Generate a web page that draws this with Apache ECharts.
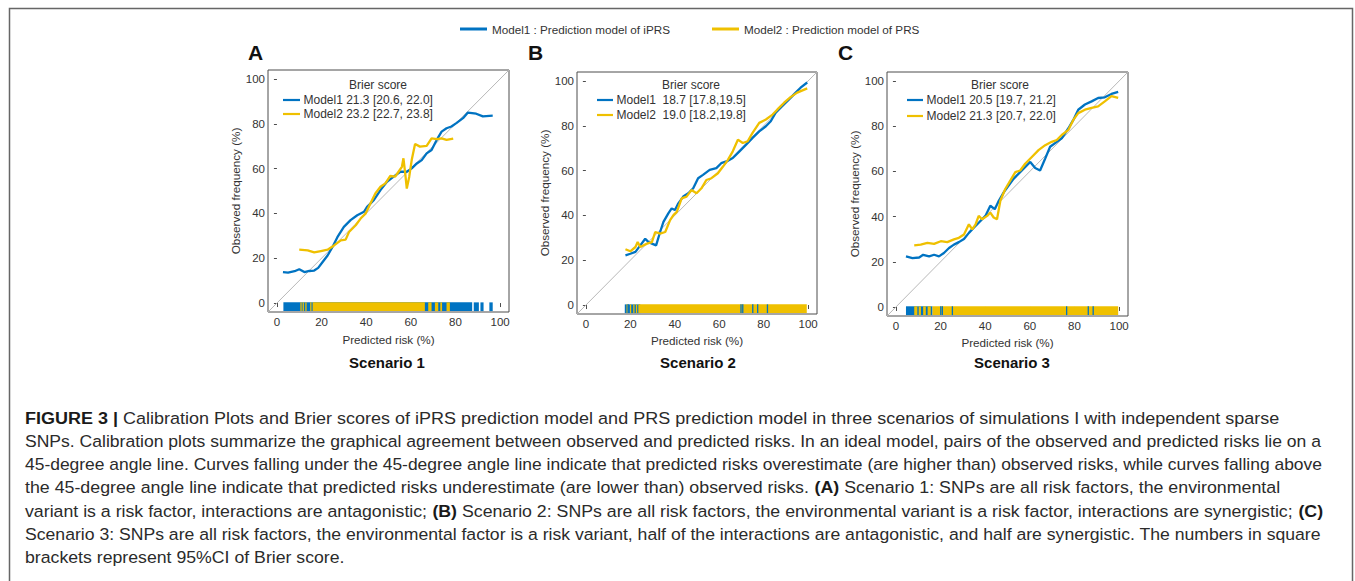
<!DOCTYPE html>
<html><head><meta charset="utf-8">
<script src="https://cdn.jsdelivr.net/npm/echarts@6/dist/echarts.min.js"></script>
<style>html,body{margin:0;padding:0;background:#fff}#c{width:1355px;height:581px}</style>
</head><body><div id="c"></div>
<script>
// ---------------- data ----------------
const tickValues = [0, 20, 40, 60, 80, 100];
const axisRange = [-4, 104];
const diagonal = [[-4, -4], [104, 104]];
const panelLetters = ['A', 'B', 'C'];
const scenarioTitles = ['Scenario 1', 'Scenario 2', 'Scenario 3'];
const modelNames = ['Model1 : Prediction model of iPRS', 'Model2 : Prediction model of PRS'];
const brierTitle = 'Brier score';
const brierA = ['Model1 21.3 [20.6, 22.0]', 'Model2 23.2 [22.7, 23.8]'];
const brierB = ['Model1  18.7 [17.8,19.5]', 'Model2  19.0 [18.2,19.8]'];
const brierC = ['Model1 20.5 [19.7, 21.2]', 'Model2 21.3 [20.7, 22.0]'];
const xTitle = 'Predicted risk (%)';
const yTitle = 'Observed frequency (%)';

// Scenario 1 calibration curves [predicted, observed]
const A_model1 = [[2.7,13.8],[5,13.6],[7.9,14.2],[10,15.1],[12.3,13.8],[14.5,14.3],[16.7,14.5],[18.5,15.7],[20.4,18.2],[22.7,21.2],[24.9,25],[27.1,29.4],[30,34],[33,37],[36,39.2],[39,40.7],[40.4,42.9],[43.4,45.9],[46.4,50.4],[49.3,54.1],[52.3,56.4],[55.3,58.6],[58.2,58.6],[60.4,60.1],[62.7,62.3],[64.9,63.8],[67.1,66.8],[69.3,68.3],[71.6,72.8],[73.8,76.5],[76,78],[78.2,78.8],[80.4,80.3],[83.4,82.5],[85.6,85],[89.3,84.5],[92.3,83.3],[96.7,83.6]];
const A_model2 = [[10,23.8],[13.8,23.5],[16.7,22.6],[19.7,23.2],[22.7,23.8],[25.6,25.7],[28.6,28],[30.8,28.3],[32.3,31.7],[35.3,34.7],[37.5,37.7],[39.7,39.9],[41.9,44.4],[44.1,48.9],[46.4,51.9],[48.6,53.4],[50.8,56.7],[53,56.4],[54.5,58.6],[56,60.8],[56.7,64.6],[57.5,57.8],[58.2,51.1],[59.3,56.4],[60.4,63.8],[61.9,71],[64.1,69.8],[67.1,70.1],[69.3,73.5],[71.6,73.1],[73.8,73.5],[76,72.8],[79,73.4]];
// Scenario 2
const B_model1 = [[17.8,22.2],[20,22.9],[22.3,23.7],[24.5,26.6],[26.7,29.6],[28.2,28.1],[29.7,27.4],[31.6,26.6],[33.4,32.6],[34.9,37.1],[37.1,40.9],[38.6,43.1],[40.1,42.4],[41.6,45.4],[43.8,48.4],[46.1,49.9],[48.3,52.1],[50.5,56.6],[52.7,58.1],[55.7,60.3],[58.7,61.1],[60.9,63.3],[63.9,64.4],[66.1,65.6],[69.1,68.6],[72.1,71.6],[75,74.6],[78,77.5],[81,79.8],[83.2,82],[85.4,85.8],[88.4,88.8],[91.4,91.8],[94.4,94.8],[96.6,97],[99.6,99.3]];
const B_model2 = [[17.8,24.9],[20,24],[22.3,25.9],[23.3,28.1],[24.5,25.9],[27.5,27.4],[29.7,28.1],[31.2,32.6],[33.4,31.9],[35.7,32.6],[37.9,37.9],[39.4,40.1],[40.9,41.6],[43.1,47.6],[45.3,48.4],[47.5,51.3],[49.8,49.9],[52,52.1],[54.2,55.8],[56.5,56.6],[59.4,58.8],[61.7,61.8],[63.9,64.8],[66.1,68.6],[68.4,73.8],[70.6,72.3],[72.8,73.1],[75,76.8],[78,81.3],[81,82.8],[84,85],[86.2,87.3],[89.2,90.3],[92.1,92.8],[95.1,94.8],[99.6,96.7]];
// Scenario 3
const C_model1 = [[4.5,22.4],[7.4,21.6],[10.4,21.9],[12.2,23.1],[14.9,22.4],[17.1,23.1],[19.3,22.4],[21.5,23.9],[23.8,26.1],[26,27.6],[28.2,28.7],[30.5,30.1],[32.7,32.8],[34.9,35.1],[37.1,37.3],[40.1,40.3],[42.3,44.8],[44.3,43.3],[46.1,47],[48.3,50.7],[50.5,53.7],[52.7,56.7],[55,59],[57.2,61.2],[60.2,64.2],[62.4,61.5],[64.6,60.4],[66.9,65.7],[69.1,70.9],[72.1,73.1],[74.3,74.6],[77.3,79.1],[79.5,82.8],[81.7,87.3],[84.7,89.6],[87.7,91],[90.6,92.5],[93.6,92.8],[96.6,94.3],[99.6,95.2]];
const C_model2 = [[8.2,27.3],[11.1,27.6],[14.1,28.4],[17.1,27.9],[20.1,29.1],[23,28.7],[26,29.9],[28.2,30.6],[30.5,32.1],[32.7,36.6],[34.2,34.3],[35.7,36.6],[37.1,40.3],[38.6,38.8],[40.9,40.3],[42.3,41.8],[43.8,39.6],[45.3,38.8],[46.8,47],[49,52.2],[51.3,56],[53.5,59.7],[55.7,60.4],[57.9,63.4],[60.9,66.4],[63.9,69.4],[66.9,71.6],[69.8,73.1],[72.1,73.9],[74.3,76.1],[77.3,78.4],[79.5,82.8],[81.7,85.8],[84.7,87.3],[87.7,88.1],[90.6,88.8],[93.6,91],[96.6,93.3],[99.6,92.5]];

// Rug of predicted risks: [from, to] in predicted-risk units (single ticks have from == to)
const A_rug_model1 = [[2.9,87.5],[88.2,90.5],[91.2,92.6],[95.2,96.7]];
const A_rug_model2 = [[10.8,10.8],[11.8,11.8],[13.0,13.0],[15.2,15.2],[16,66.3],[67.8,69.3],[70.8,72.3],[73.2,74.0],[76.0,77.5]];
const A_rug_model1_top = [];
const B_rug_model1 = [[17.5,24.5]];
const B_rug_model2 = [[18.6,18.6],[20.1,20.1],[21.6,21.6],[22.8,23.0],[23.6,99.4]];
const B_rug_model1_top = [[19.0,19.0],[69.8,70.1],[70.6,70.6],[75.1,75.1],[77.3,77.6],[81.7,81.7]];
const C_rug_model1 = [[4.5,16.4]];
const C_rug_model2 = [[8.2,9.6],[10.2,11.2],[12.2,13.4],[14.2,15.6],[16.4,99.6]];
const C_rug_model1_top = [[20.1,20.1],[20.8,20.8],[25.3,25.3],[76.5,76.5],[86.2,86.2],[88.4,88.4]];

const captionLines = [
  [['b','FIGURE 3 |'],['r',' Calibration Plots and Brier scores of iPRS prediction model and PRS prediction model in three scenarios of simulations I with independent sparse']],
  [['r','SNPs. Calibration plots summarize the graphical agreement between observed and predicted risks. In an ideal model, pairs of the observed and predicted risks lie on a']],
  [['r','45-degree angle line. Curves falling under the 45-degree angle line indicate that predicted risks overestimate (are higher than) observed risks, while curves falling above']],
  [['r','the 45-degree angle line indicate that predicted risks underestimate (are lower than) observed risks. '],['b','(A)'],['r',' Scenario 1: SNPs are all risk factors, the environmental']],
  [['r','variant is a risk factor, interactions are antagonistic; '],['b','(B)'],['r',' Scenario 2: SNPs are all risk factors, the environmental variant is a risk factor, interactions are synergistic; '],['b','(C)']],
  [['r','Scenario 3: SNPs are all risk factors, the environmental factor is a risk variant, half of the interactions are antagonistic, and half are synergistic. The numbers in square']],
  [['r','brackets represent 95%CI of Brier score.']]
];

// ---------------- layout / style ----------------
const FONT = '"Liberation Sans", Arial, Helvetica, sans-serif';
const BLUE = '#0073C2', YELLOW = '#EFC000';
const RUG_Y = [0.3, -3.6];
const grids = [
  {left: 268, top: 70, width: 241, height: 242},
  {left: 577, top: 72, width: 240, height: 242},
  {left: 887, top: 72, width: 241, height: 244}
];
const xNameGap = [21, 20, 20];
const curves = [[A_model1, A_model2], [B_model1, B_model2], [C_model1, C_model2]];
const rugs = [[A_rug_model1, A_rug_model2, A_rug_model1_top], [B_rug_model1, B_rug_model2, B_rug_model1_top], [C_rug_model1, C_rug_model2, C_rug_model1_top]];
const brier = [brierA, brierB, brierC];
const letterX = [248, 528, 838];
const scenarioX = [387, 698, 1012];
const brierTitleX = [378, 691, 1000];
const brierLineX = [[283, 300], [597, 613], [907, 923]];
const brierRowY = [[100, 114], [100, 115], [100, 116]];
// caption right edges (null = natural width with the mean condensing factor)
const captionRight = [1280, 1322.7, 1322.7, 1280, 1322.7, 1322.7, null];

const chart = echarts.init(document.getElementById('c'), null, {renderer: 'svg'});

function rugSeries(name, idx, items, color, z) {
  return {
    type: 'custom', name: name, xAxisIndex: idx, yAxisIndex: idx, z: z, silent: true,
    data: items,
    renderItem: function (params, api) {
      const p0 = api.coord([api.value(0), RUG_Y[0]]);
      const p1 = api.coord([api.value(1), RUG_Y[1]]);
      let w = p1[0] - p0[0];
      let x = p0[0];
      if (w < 1.3) { x = x - 0.65; w = 1.3; }
      return {type: 'rect', shape: {x: x, y: p0[1], width: w, height: p1[1] - p0[1]}, style: {fill: color}};
    }
  };
}

const AX_FONT = 11.7;
const xAxes = [], yAxes = [], series = [], graphics = [];
grids.forEach(function (g, i) {
  g.show = true; g.borderColor = '#4d4d4d'; g.borderWidth = 1; g.backgroundColor = 'transparent';
  xAxes.push({
    type: 'value', gridIndex: i, min: axisRange[0], max: axisRange[1],
    axisLine: {show: false}, splitLine: {show: false},
    axisTick: {show: true, length: 4, customValues: tickValues, lineStyle: {color: '#4d4d4d'}},
    axisLabel: {customValues: tickValues, margin: 4, fontSize: 11.5, color: '#333', fontFamily: FONT},
    name: xTitle, nameLocation: 'middle', nameGap: xNameGap[i],
    nameTextStyle: {fontSize: AX_FONT, color: '#333', fontFamily: FONT}
  });
  yAxes.push({
    type: 'value', gridIndex: i, min: axisRange[0], max: axisRange[1],
    axisLine: {show: false}, splitLine: {show: false},
    axisTick: {show: true, length: 3, customValues: tickValues, lineStyle: {color: '#4d4d4d'}},
    axisLabel: {customValues: tickValues, margin: 3, fontSize: 11.5, color: '#333', fontFamily: FONT},
    name: yTitle, nameLocation: 'middle', nameGap: 17.5,
    nameTextStyle: {fontSize: AX_FONT, color: '#333', fontFamily: FONT}
  });
});
// line series first (legend takes its icon from the first series of each name)
curves.forEach(function (c, i) {
  series.push({type: 'line', name: modelNames[0], xAxisIndex: i, yAxisIndex: i, data: c[0], symbol: 'none', z: 3,
    lineStyle: {color: BLUE, width: 2.3}, itemStyle: {color: BLUE}, silent: true});
  series.push({type: 'line', name: modelNames[1], xAxisIndex: i, yAxisIndex: i, data: c[1], symbol: 'none', z: 4,
    lineStyle: {color: YELLOW, width: 2.3}, itemStyle: {color: YELLOW}, silent: true});
});
curves.forEach(function (c, i) {
  series.push({type: 'line', name: 'diag' + i, xAxisIndex: i, yAxisIndex: i, data: diagonal, symbol: 'none', z: 1,
    lineStyle: {color: '#b8b8b8', width: 1}, silent: true});
  series.push(rugSeries(modelNames[0], i, rugs[i][0], BLUE, 5));
  series.push(rugSeries(modelNames[1], i, rugs[i][1], YELLOW, 6));
  series.push(rugSeries(modelNames[0], i, rugs[i][2], BLUE, 7));
});

// frame
graphics.push({type: 'polyline', silent: true, shape: {points: [[9.5, 600], [9.5, 8.5], [1352.5, 8.5], [1352.5, 600]]},
  style: {stroke: '#666', lineWidth: 1.5, fill: null}});
// panel letters, scenario titles, Brier legends
panelLetters.forEach(function (L, i) {
  graphics.push({type: 'text', x: letterX[i], y: 52.5, silent: true,
    style: {text: L, font: 'bold 21px ' + FONT, fill: '#111', textAlign: 'left', textVerticalAlign: 'middle'}});
  graphics.push({type: 'text', x: scenarioX[i], y: 362.5, silent: true,
    style: {text: scenarioTitles[i], font: 'bold 15px ' + FONT, fill: '#111', textAlign: 'center', textVerticalAlign: 'middle'}});
  graphics.push({type: 'text', x: brierTitleX[i], y: 84.5, silent: true,
    style: {text: brierTitle, font: '12px ' + FONT, fill: '#333', textAlign: 'center', textVerticalAlign: 'middle'}});
  [BLUE, YELLOW].forEach(function (col, k) {
    graphics.push({type: 'line', silent: true,
      shape: {x1: brierLineX[i][0], y1: brierRowY[i][k], x2: brierLineX[i][1], y2: brierRowY[i][k]},
      style: {stroke: col, lineWidth: 2.2}});
    graphics.push({type: 'text', x: brierLineX[i][1] + 3.5, y: brierRowY[i][k], silent: true,
      style: {text: brier[i][k], font: '12px ' + FONT, fill: '#333', textAlign: 'left', textVerticalAlign: 'middle'}});
  });
});

// caption: each line is condensed to its measured right edge
const CAP_SIZE = 17;
const CAP_LEFT = 25, CAP_TOP = 418, CAP_STEP = 23.2;
const ctx = document.createElement('canvas').getContext('2d');
const capInfo = captionLines.map(function (segs) {
  let w = 0, txt = '';
  segs.forEach(function (s) {
    ctx.font = (s[0] === 'b' ? 'bold ' : '') + CAP_SIZE + 'px ' + FONT;
    w += ctx.measureText(s[1]).width;
    txt += '{' + s[0] + '|' + s[1] + '}';
  });
  return {w: w, txt: txt};
});
let sxSum = 0, sxN = 0;
capInfo.forEach(function (c, li) { if (captionRight[li] !== null) { sxSum += (captionRight[li] - CAP_LEFT) / c.w; sxN++; } });
const sxMean = sxSum / sxN;
capInfo.forEach(function (c, li) {
  const sx = captionRight[li] !== null ? (captionRight[li] - CAP_LEFT) / c.w : sxMean;
  graphics.push({type: 'text', x: CAP_LEFT, y: CAP_TOP + li * CAP_STEP, scaleX: sx, silent: true,
    style: {text: c.txt, textAlign: 'left', textVerticalAlign: 'middle',
      rich: {b: {fontWeight: 'bold', fontSize: CAP_SIZE, fontFamily: FONT, fill: '#1a1a1a', color: '#1a1a1a'},
             r: {fontSize: CAP_SIZE, fontFamily: FONT, fill: '#2b2b2b', color: '#2b2b2b'}}}});
});

chart.setOption({
  animation: false,
  backgroundColor: '#fff',
  legend: {data: modelNames, left: 460, top: 23, padding: 0, icon: 'rect', itemWidth: 27, itemHeight: 3, itemGap: 42,
    selectedMode: true, textStyle: {fontSize: 11.7, color: '#333', fontFamily: FONT}},
  grid: grids, xAxis: xAxes, yAxis: yAxes, series: series, graphic: graphics
});
</script></body></html>
